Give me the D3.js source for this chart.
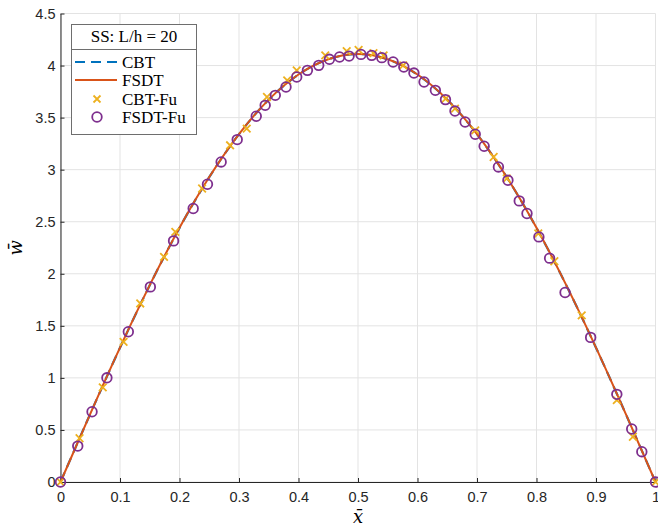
<!DOCTYPE html>
<html lang="en">
<head>
<meta charset="utf-8">
<style>
    body { margin: 0; background: #fff; }
    .tick text { font: 14.5px "Liberation Sans", Arial, sans-serif; fill: #262626; }
    .legend text { font: 17px "Liberation Serif", "DejaVu Serif", serif; fill: #000; }
</style>
<script src="https://d3js.org/d3.v7.min.js"></script>
</head>
<body>
<svg width="658" height="529"></svg>
<script>
    // analytical curves (CBT / FSDT)
    var curveX = [0, 0.05, 0.1, 0.15, 0.2, 0.25, 0.3, 0.35, 0.4, 0.45, 0.5,
                  0.55, 0.6, 0.65, 0.7, 0.75, 0.8, 0.85, 0.9, 0.95, 1];
    var cbtW  = [0, 0.654, 1.290, 1.890, 2.441, 2.928, 3.341, 3.672, 3.913, 4.060, 4.110,
                 4.060, 3.913, 3.672, 3.341, 2.928, 2.441, 1.890, 1.290, 0.654, 0];
    var fsdtW = [0, 0.655, 1.291, 1.891, 2.442, 2.929, 3.342, 3.673, 3.914, 4.061, 4.111,
                 4.061, 3.914, 3.673, 3.342, 2.929, 2.442, 1.891, 1.291, 0.655, 0];

    // Fu reference points
    var cbtFuX = [0, 0.032, 0.071, 0.106, 0.134, 0.174, 0.193, 0.238, 0.285, 0.313, 0.347,
                  0.381, 0.397, 0.445, 0.481, 0.501, 0.526, 0.543, 0.576, 0.647, 0.663,
                  0.697, 0.728, 0.75, 0.803, 0.83, 0.876, 0.935, 0.962, 1];
    var cbtFuW = [0, 0.42, 0.909, 1.346, 1.715, 2.162, 2.402, 2.819, 3.234, 3.394, 3.698,
                  3.858, 3.954, 4.098, 4.139, 4.15, 4.12, 4.098, 4.002, 3.68, 3.586,
                  3.378, 3.122, 2.915, 2.387, 2.12, 1.6, 0.787, 0.435, 0];

    var fsdtFuX = [0, 0.029, 0.053, 0.078, 0.114, 0.151, 0.19, 0.223, 0.247, 0.27, 0.297,
                   0.329, 0.344, 0.361, 0.379, 0.397, 0.415, 0.434, 0.452, 0.469, 0.485,
                   0.505, 0.523, 0.54, 0.559, 0.577, 0.594, 0.611, 0.63, 0.647, 0.663,
                   0.68, 0.697, 0.712, 0.736, 0.752, 0.771, 0.784, 0.804, 0.822, 0.848,
                   0.891, 0.935, 0.96, 0.977, 1];
    var fsdtFuW = [0, 0.345, 0.675, 1.001, 1.443, 1.874, 2.316, 2.627, 2.86, 3.074, 3.289,
                   3.513, 3.618, 3.714, 3.794, 3.89, 3.954, 4.002, 4.06, 4.082, 4.091,
                   4.107, 4.098, 4.076, 4.034, 3.986, 3.928, 3.842, 3.762, 3.673, 3.563,
                   3.458, 3.34, 3.225, 3.026, 2.898, 2.7, 2.579, 2.354, 2.15, 1.82,
                   1.389, 0.842, 0.509, 0.291, 0];

    var xTicks = [0, 0.1, 0.2, 0.3, 0.4, 0.5, 0.6, 0.7, 0.8, 0.9, 1];
    var yTicks = [0, 0.5, 1, 1.5, 2, 2.5, 3, 3.5, 4, 4.5];
    var names = ["CBT", "FSDT", "CBT-Fu", "FSDT-Fu"];
    var colors = ["#0072BD", "#D95319", "#EDB120", "#7E2F8E"];

    var svg = d3.select("svg");
    var pLeft = 60.5, pRight = 655.5, pTop = 13.5, pBottom = 482;

    var x = d3.scaleLinear().domain([0, 1]).range([pLeft, pRight]);
    var y = d3.scaleLinear().domain([0, 4.5]).range([pBottom, pTop]);

    // grid
    var grid = svg.append("g");
    grid.selectAll(".gx").data(xTicks).enter().append("line")
        .attr("x1", function(d) { return x(d); }).attr("x2", function(d) { return x(d); })
        .attr("y1", pTop).attr("y2", pBottom)
        .attr("stroke", "#e3e3e3").attr("stroke-width", 1);
    grid.selectAll(".gy").data(yTicks).enter().append("line")
        .attr("x1", pLeft).attr("x2", pRight)
        .attr("y1", function(d) { return y(d); }).attr("y2", function(d) { return y(d); })
        .attr("stroke", "#e3e3e3").attr("stroke-width", 1);

    // axes
    var xAxis = d3.axisBottom(x).tickValues(xTicks).tickSizeInner(-4).tickSizeOuter(0).tickPadding(10)
        .tickFormat(function(d) { return d3.format("~g")(d); });
    var yAxis = d3.axisLeft(y).tickValues(yTicks).tickSizeInner(-4).tickSizeOuter(0).tickPadding(5)
        .tickFormat(function(d) { return d3.format("~g")(d); });

    var gx = svg.append("g").attr("transform", "translate(0," + pBottom + ")").call(xAxis);
    var gy = svg.append("g").attr("transform", "translate(" + pLeft + ",0)").call(yAxis);
    [gx, gy].forEach(function(g) {
        g.select(".domain").attr("stroke", "#262626").attr("stroke-width", 1);
        g.selectAll(".tick line").attr("stroke", "#262626");
    });

    // axis labels
    svg.append("text")
        .attr("x", x(0.5)).attr("y", 523)
        .attr("text-anchor", "middle")
        .style("font", "italic 18px 'DejaVu Serif', serif")
        .text("x\u0304");
    svg.append("text")
        .attr("transform", "translate(22," + y(2.25) + ") rotate(-90)")
        .attr("text-anchor", "middle")
        .style("font", "italic 18px 'DejaVu Serif', serif")
        .text("w\u0304");

    // lines
    var line = d3.line().curve(d3.curveNatural)
        .x(function(d) { return x(d[0]); })
        .y(function(d) { return y(d[1]); });

    svg.append("path")
        .datum(d3.zip(curveX, cbtW))
        .attr("d", line)
        .attr("fill", "none").attr("stroke", colors[0])
        .attr("stroke-width", 2.2).attr("stroke-dasharray", "10,6");
    svg.append("path")
        .datum(d3.zip(curveX, fsdtW))
        .attr("d", line)
        .attr("fill", "none").attr("stroke", colors[1])
        .attr("stroke-width", 2);

    // markers
    function cross(g, cx, cy, s) {
        g.append("path")
            .attr("d", "M" + (cx - s) + "," + (cy - s) + "L" + (cx + s) + "," + (cy + s) +
                       "M" + (cx - s) + "," + (cy + s) + "L" + (cx + s) + "," + (cy - s))
            .attr("stroke", colors[2]).attr("stroke-width", 1.8).attr("fill", "none");
    }
    var cg = svg.append("g");
    d3.zip(cbtFuX, cbtFuW).forEach(function(d) { cross(cg, x(d[0]), y(d[1]), 3.8); });

    svg.append("g").selectAll("circle")
        .data(d3.zip(fsdtFuX, fsdtFuW))
        .enter().append("circle")
        .attr("cx", function(d) { return x(d[0]); })
        .attr("cy", function(d) { return y(d[1]); })
        .attr("r", 4.8)
        .attr("fill", "none").attr("stroke", colors[3]).attr("stroke-width", 1.8);

    // legend
    var lg = svg.append("g").attr("class", "legend");
    lg.append("rect")
        .attr("x", 71.5).attr("y", 24.5).attr("width", 125).attr("height", 110)
        .attr("fill", "#fff").attr("stroke", "#6e6e6e").attr("stroke-width", 1);
    lg.append("line")
        .attr("x1", 71.5).attr("x2", 196.5).attr("y1", 49.5).attr("y2", 49.5)
        .attr("stroke", "#6e6e6e");
    lg.append("text")
        .attr("x", 134).attr("y", 42).attr("text-anchor", "middle")
        .text("SS: L/h = 20");

    var rowY = [62, 80, 99, 117];
    lg.append("line").attr("x1", 75).attr("x2", 117).attr("y1", rowY[0]).attr("y2", rowY[0])
        .attr("stroke", colors[0]).attr("stroke-width", 2.2).attr("stroke-dasharray", "10,6");
    lg.append("line").attr("x1", 75).attr("x2", 117).attr("y1", rowY[1]).attr("y2", rowY[1])
        .attr("stroke", colors[1]).attr("stroke-width", 2);
    cross(lg, 97, rowY[2], 3.5);
    lg.append("circle").attr("cx", 97).attr("cy", rowY[3]).attr("r", 4.8)
        .attr("fill", "none").attr("stroke", colors[3]).attr("stroke-width", 1.8);

    lg.selectAll(".lbl").data(names).enter().append("text")
        .attr("x", 122)
        .attr("y", function(d, i) { return rowY[i] + 6; })
        .text(function(d) { return d; });
</script>
</body>
</html>
